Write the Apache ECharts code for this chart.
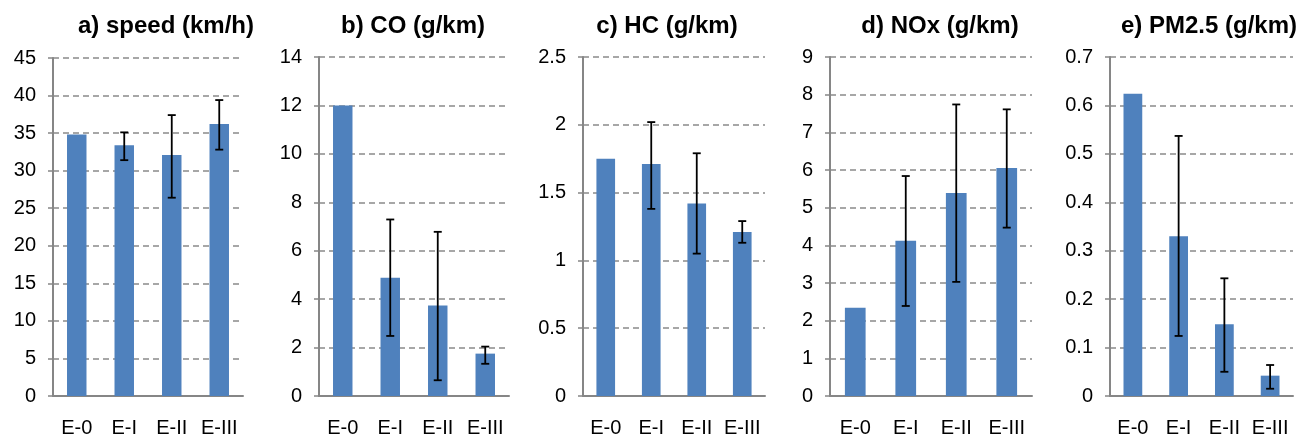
<!DOCTYPE html>
<html>
<head>
<meta charset="utf-8">
<title>speed and emissions by standard</title>
<script src="https://cdn.jsdelivr.net/npm/echarts@6/dist/echarts.min.js"></script>
<style>
    html, body { margin: 0; padding: 0; background: #fff; }
    #dataShow { width: 1309px; height: 438px; }
</style>
</head>
<body>
<div id="dataShow"></div>
<script>
/*==数据==*/
var categories = ['E-0', 'E-I', 'E-II', 'E-III'];

// a) speed
var speedMean = [34.8, 33.4, 32.1, 36.2];
var speedLow = [null, 31.4, 26.4, 32.8];
var speedHigh = [null, 35.1, 37.4, 39.4];
// b) CO
var coMean = [12.0, 4.88, 3.74, 1.75];
var coLow = [null, 2.48, 0.65, 1.33];
var coHigh = [null, 7.29, 6.78, 2.04];
// c) HC
var hcMean = [1.75, 1.71, 1.42, 1.21];
var hcLow = [null, 1.38, 1.05, 1.13];
var hcHigh = [null, 2.02, 1.79, 1.29];
// d) NOx
var noxMean = [2.34, 4.12, 5.39, 6.05];
var noxLow = [null, 2.39, 3.03, 4.47];
var noxHigh = [null, 5.84, 7.74, 7.61];
// e) PM2.5
var pmMean = [0.624, 0.330, 0.148, 0.042];
var pmLow = [null, 0.124, 0.050, 0.015];
var pmHigh = [null, 0.537, 0.243, 0.064];

var titles = ['a) speed (km/h)', 'b) CO (g/km)', 'c) HC (g/km)', 'd) NOx (g/km)', 'e) PM2.5 (g/km)'];
var yMax = [45, 14, 2.5, 9, 0.7];
var yStep = [5, 2, 0.5, 1, 0.1];

var means = [speedMean, coMean, hcMean, noxMean, pmMean];
var lows = [speedLow, coLow, hcLow, noxLow, pmLow];
var highs = [speedHigh, coHigh, hcHigh, noxHigh, pmHigh];

/*==布局==*/
var panels = [
    {left: 53, width: 190, top: 58, bottom: 40, titleX: 166},
    {left: 319, width: 190, top: 57, bottom: 41, titleX: 413},
    {left: 583, width: 182, top: 57, bottom: 41, titleX: 667},
    {left: 830, width: 202, top: 57, bottom: 41, titleX: 940},
    {left: 1110, width: 183, top: 57, bottom: 41, titleX: 1209}
];

var font = 'Liberation Sans, Arial, sans-serif';
var axisColor = '#868686';

function errorBars(params, api) {
    var x = api.value(0);
    var lo = api.coord([x, api.value(1)]);
    var hi = api.coord([x, api.value(2)]);
    var hw = 4;
    var style = {stroke: '#000', lineWidth: 1.8};
    return {
        type: 'group',
        children: [
            {type: 'line', shape: {x1: lo[0], y1: lo[1], x2: hi[0], y2: hi[1]}, style: style},
            {type: 'line', shape: {x1: hi[0] - hw, y1: hi[1], x2: hi[0] + hw, y2: hi[1]}, style: style},
            {type: 'line', shape: {x1: lo[0] - hw, y1: lo[1], x2: lo[0] + hw, y2: lo[1]}, style: style}
        ]
    };
}

var option = {
    animation: false,
    backgroundColor: '#fff',
    title: [],
    grid: [],
    xAxis: [],
    yAxis: [],
    series: []
};

for (var i = 0; i < panels.length; i++) {
    var p = panels[i];
    option.title.push({
        text: titles[i],
        left: p.titleX,
        top: 14,
        padding: 0,
        textAlign: 'center',
        textStyle: {fontFamily: font, fontSize: 24, fontWeight: 'bold', color: '#000'}
    });
    option.grid.push({left: p.left, width: p.width, top: p.top, bottom: p.bottom});
    option.xAxis.push({
        type: 'category',
        gridIndex: i,
        data: categories,
        axisLine: {lineStyle: {color: axisColor, width: 2}},
        axisTick: {length: 7, lineStyle: {color: axisColor, width: 1.5}},
        axisLabel: {color: '#000', fontFamily: font, fontSize: 20, margin: 22, interval: 0, hideOverlap: false}
    });
    option.yAxis.push({
        type: 'value',
        gridIndex: i,
        min: 0,
        max: yMax[i],
        interval: yStep[i],
        axisLine: {show: true, lineStyle: {color: axisColor, width: 2}},
        axisTick: {show: true, length: 5, lineStyle: {color: axisColor, width: 1.5}},
        axisLabel: {color: '#000', fontFamily: font, fontSize: 20, margin: 17},
        splitLine: {lineStyle: {color: '#8a8a8a', width: 1.5, type: [6, 4]}}
    });
    option.series.push({
        type: 'bar',
        xAxisIndex: i,
        yAxisIndex: i,
        barWidth: '41%',
        itemStyle: {color: '#4f81bd'},
        data: means[i]
    });
    var errData = [];
    for (var j = 0; j < categories.length; j++) {
        if (lows[i][j] != null) {
            errData.push([j, lows[i][j], highs[i][j]]);
        }
    }
    option.series.push({
        type: 'custom',
        xAxisIndex: i,
        yAxisIndex: i,
        silent: true,
        z: 10,
        encode: {x: 0, y: [1, 2]},
        renderItem: errorBars,
        data: errData
    });
}

var myChart = echarts.init(document.getElementById('dataShow'));
myChart.setOption(option);
</script>
</body>
</html>
